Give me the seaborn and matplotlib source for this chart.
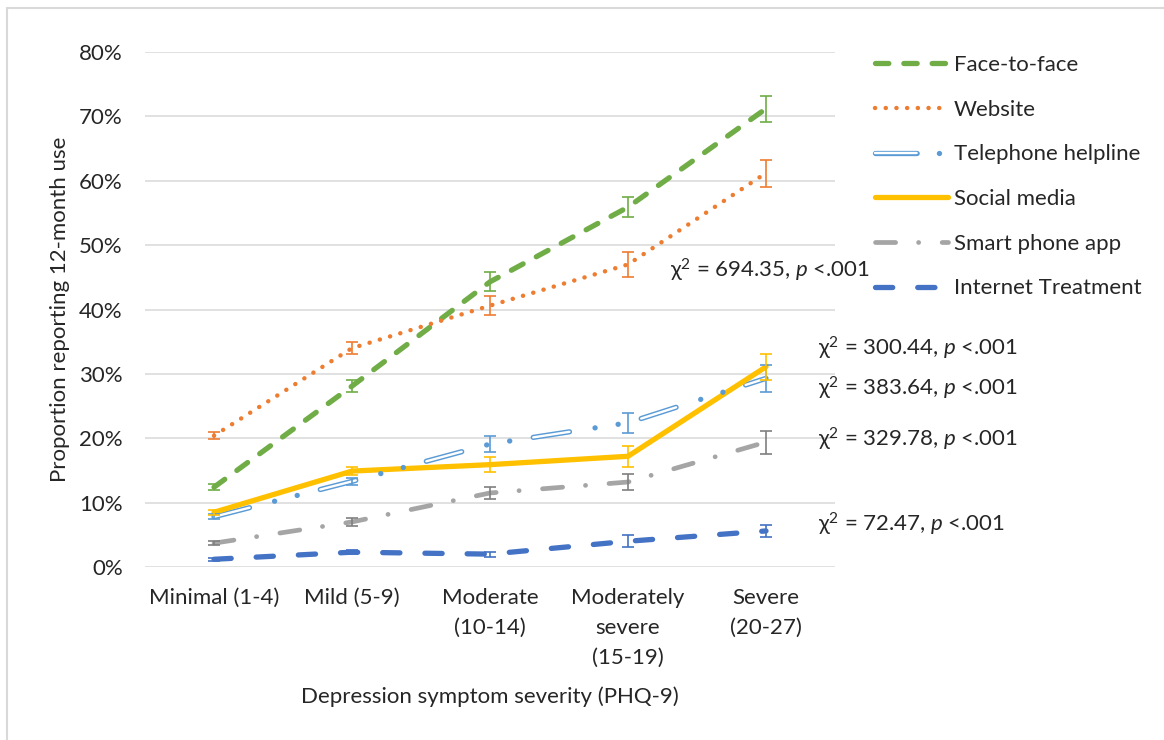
import numpy as np
import pandas as pd
import matplotlib
matplotlib.use("Agg")
import matplotlib.pyplot as plt
from matplotlib.lines import Line2D
from matplotlib.legend_handler import HandlerTuple
import seaborn as sns

# ---------------- data ----------------
categories = ["Minimal (1-4)", "Mild (5-9)", "Moderate\n(10-14)",
              "Moderately\nsevere\n(15-19)", "Severe\n(20-27)"]
series_names = ["Face-to-face", "Website", "Telephone helpline",
                "Social media", "Smart phone app", "Internet Treatment"]
face_to_face = [12.4, 28.1, 44.3, 55.9, 71.2]
website = [20.4, 34.0, 40.6, 47.0, 61.2]
telephone = [7.8, 13.3, 19.1, 22.4, 29.3]
social_media = [8.5, 14.9, 15.9, 17.2, 31.1]
smart_phone = [3.7, 7.0, 11.5, 13.2, 19.4]
internet = [1.2, 2.3, 2.0, 4.0, 5.6]

err_face = [0.5, 0.9, 1.5, 1.6, 2.0]
err_website = [0.5, 0.9, 1.5, 1.9, 2.1]
err_telephone = [0.4, 0.5, 1.2, 1.6, 2.1]
err_social = [0.4, 0.6, 1.2, 1.6, 2.0]
err_smart = [0.3, 0.6, 0.9, 1.3, 1.8]
err_internet = [0.2, 0.3, 0.4, 0.9, 0.9]

annotations = ["694.35", "300.44", "383.64", "329.78", "72.47"]

yticks = [0, 10, 20, 30, 40, 50, 60, 70, 80]
ytick_labels = ["0%", "10%", "20%", "30%", "40%", "50%", "60%", "70%", "80%"]

# ---------------- style ----------------
sns.set_theme(style="white")
FONT = "Lato"
plt.rcParams["font.family"] = [FONT, "DejaVu Sans"]
plt.rcParams["mathtext.fontset"] = "custom"
plt.rcParams["mathtext.rm"] = FONT
plt.rcParams["mathtext.it"] = FONT + ":italic"
plt.rcParams["lines.scale_dashes"] = False
plt.rcParams["lines.dash_capstyle"] = "round"
plt.rcParams["lines.solid_capstyle"] = "round"
TXT = "#262626"
FS = 16

colors = {
    "Face-to-face": "#70AD47",
    "Website": "#ED7D31",
    "Telephone helpline": "#5B9BD5",
    "Social media": "#FFC000",
    "Smart phone app": "#A5A5A5",
    "Internet Treatment": "#4472C4",
}
err_colors = {
    "Face-to-face": "#70AD47",
    "Website": "#ED7D31",
    "Telephone helpline": "#5B9BD5",
    "Social media": "#FFC000",
    "Smart phone app": "#7F7F7F",
    "Internet Treatment": "#4472C4",
}

values = {
    "Face-to-face": face_to_face, "Website": website,
    "Telephone helpline": telephone, "Social media": social_media,
    "Smart phone app": smart_phone, "Internet Treatment": internet,
}
errors = {
    "Face-to-face": err_face, "Website": err_website,
    "Telephone helpline": err_telephone, "Social media": err_social,
    "Smart phone app": err_smart, "Internet Treatment": err_internet,
}

rows = []
for s in series_names:
    for i, c in enumerate(categories):
        rows.append({"series": s, "x": i, "category": c,
                     "value": values[s][i], "err": errors[s][i]})
df = pd.DataFrame(rows)

fig = plt.figure(figsize=(11.64, 7.40), dpi=100)
ax = fig.add_axes([145 / 1164, 1 - 567 / 740, 690 / 1164, 515 / 740])

# line styles (points)
styles = {
    "Face-to-face": dict(lw=3.8, dashes=(9.6, 10.8)),
    "Website": dict(lw=3.2, dashes=(0.1, 7.6)),
    "Social media": dict(lw=3.8, dashes=None),
    "Smart phone app": dict(lw=3.4, dashes=(14.5, 16.5, 0.1, 16.9)),
    "Internet Treatment": dict(lw=3.8, dashes=(12.4, 18.0)),
}

handles = {}
for s in series_names:
    d = df[df.series == s]
    if s == "Telephone helpline":
        col = colors[s]
        sns.lineplot(data=d, x="x", y="value", ax=ax, color=col, lw=3.8,
                     linestyle=(0, (26.4, 52.6)), legend=False, zorder=3)
        sns.lineplot(data=d, x="x", y="value", ax=ax, color="white", lw=1.7,
                     linestyle=(0, (26.4, 52.6)), legend=False, zorder=3.1)
        sns.lineplot(data=d, x="x", y="value", ax=ax, color=col, lw=3.8,
                     linestyle=(34, (0.1, 16.7, 0.1, 62.1)), legend=False, zorder=3.1)
        h1 = Line2D([], [], color=col, lw=3.8, linestyle=(0, (30, 60)))
        h2 = Line2D([], [], color="white", lw=1.7, linestyle=(0, (30, 60)))
        h3 = Line2D([], [], color=col, lw=3.8, linestyle=(-46, (0.1, 60)))
        handles[s] = (h1, h2, h3)
    else:
        st = styles[s]
        ls = "-" if st["dashes"] is None else (0, st["dashes"])
        sns.lineplot(data=d, x="x", y="value", ax=ax, color=colors[s],
                     lw=st["lw"], linestyle=ls, legend=False, zorder=3)
        handles[s] = Line2D([], [], color=colors[s], lw=st["lw"], linestyle=ls)
    ax.errorbar(d["x"], d["value"], yerr=d["err"], fmt="none",
                ecolor=err_colors[s], elinewidth=1.2, capsize=4.3,
                capthick=1.2, zorder=4)

ax.set_xlim(-0.5, 4.5)
ax.set_ylim(0, 80)
ax.set_yticks(yticks)
ax.set_yticklabels(ytick_labels)
ax.set_xticks(range(len(categories)))
ax.set_xticklabels(categories, linespacing=1.62)
ax.grid(axis="y", color="#D9D9D9", lw=1.1)
ax.set_axisbelow(True)
for sp in ax.spines.values():
    sp.set_visible(False)
ax.tick_params(axis="both", length=0, labelsize=FS, labelcolor=TXT)
ax.tick_params(axis="y", pad=16)
ax.tick_params(axis="x", pad=15)

ax.set_xlabel("Depression symptom severity (PHQ-9)", fontsize=FS, color=TXT, va="center")
ax.set_ylabel("Proportion reporting 12-month use", fontsize=FS, color=TXT, va="center")
ax.xaxis.set_label_coords(0.5, -(697 - 567) / 515)
ax.yaxis.set_label_coords((60 - 145) / 690, 0.5)

# legend
leg = fig.legend([handles[s] for s in series_names], series_names,
                 handler_map={tuple: HandlerTuple(ndivide=1, pad=0)},
                 loc="upper left", bbox_to_anchor=(855 / 1164, 1 - 35 / 740),
                 frameon=False, fontsize=FS, handlelength=3.3,
                 labelspacing=1.11, handletextpad=0.25, labelcolor=TXT)

# chi-square annotations
ann_pos = [(670, 270), (818, 348), (818, 388), (818, 439), (818, 524)]
for a, (px, py) in zip(annotations, ann_pos):
    fig.text(px / 1164, 1 - py / 740,
             "\u03c7$^{2}$ = " + a + r", $\mathit{p}$ <.001",
             fontsize=FS, color=TXT, ha="left", va="center")

# chart-area border (only left/top visible in the reference crop)
fig.add_artist(Line2D([7 / 1164, 7 / 1164], [0, 1 - 8 / 740], color="#D9D9D9", lw=1.5,
                      transform=fig.transFigure))
fig.add_artist(Line2D([7 / 1164, 1], [1 - 8 / 740, 1 - 8 / 740], color="#D9D9D9", lw=1.5,
                      transform=fig.transFigure))

fig.savefig("out.png", dpi=100, facecolor="white")
